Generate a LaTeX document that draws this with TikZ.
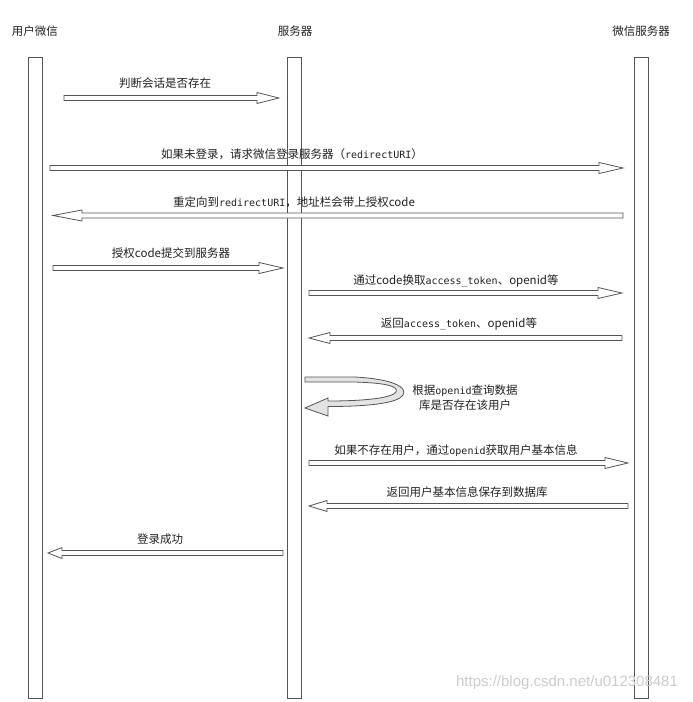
\documentclass[tikz,border=0pt]{standalone}
\usepackage{fontspec}
\setmainfont{Noto Sans CJK SC}
\newfontfamily\monof{DejaVu Sans Mono}
\newfontfamily\wmfont{Liberation Sans}
\definecolor{edge}{HTML}{555555}
\definecolor{txt}{HTML}{222222}
\tikzset{
  lifeline/.style={draw=edge, line width=0.9pt, fill=white, inner sep=0pt, outer sep=0pt},
  blockarrow/.style={draw=edge, line width=0.8pt, fill=white, line join=miter},
  selfarrow/.style={draw=edge, line width=0.8pt, fill=gray!22, line join=miter},
  lbl/.style={text=txt, font=\fontsize{11.5}{15}\selectfont, inner sep=0pt, anchor=center},
  header/.style={text=txt, font=\fontsize{11.5}{14}\selectfont, inner sep=0pt, anchor=center},
  watermark/.style={text=gray!40, font=\wmfont\fontsize{15}{17}\selectfont, inner sep=0pt, anchor=center},
}
\newcommand{\mt}[1]{{\monof\fontsize{10}{14}\selectfont #1}}
% right-pointing: tail x, tip x, y, head length
\newcommand{\rarr}[4]{\draw[blockarrow] (#1,#3-2.5) -- (#2-#4,#3-2.5) -- (#2-#4,#3-5.5) -- (#2,#3) -- (#2-#4,#3+5.5) -- (#2-#4,#3+2.5) -- (#1,#3+2.5) -- cycle;}
% left-pointing: tip x, tail x, y, head length
\newcommand{\larr}[4]{\draw[blockarrow] (#2,#3-2.5) -- (#1+#4,#3-2.5) -- (#1+#4,#3-5.5) -- (#1,#3) -- (#1+#4,#3+5.5) -- (#1+#4,#3+2.5) -- (#2,#3+2.5) -- cycle;}
\begin{document}
\begin{tikzpicture}[x=1pt, y=-1pt]
\useasboundingbox[fill=white] (0,0) rectangle (693,702);

% headers
\node[header] (hu) at (35,31) {用户微信};
\node[header] (hs) at (295,31) {服务器};
\node[header] (hw) at (641,31) {微信服务器};

% lifelines
\node[lifeline, minimum width=14pt, minimum height=641pt] (u) at (35,377.5) {};
\node[lifeline, minimum width=14pt, minimum height=641pt] (s) at (294,377.5) {};
\node[lifeline, minimum width=14pt, minimum height=641pt] (w) at (641,377.5) {};

% 1
\rarr{64}{279}{98}{22}
\node[lbl] (m1) at (165,83) {判断会话是否存在};
% 2
\rarr{50}{623}{168}{24}
\node[lbl] (m2) at (292,154) {如果未登录，请求微信登录服务器（\mt{redirectURI}）};
% 3
\larr{53}{623}{215.5}{29}
\node[lbl] (m3) at (294,202) {重定向到\mt{redirectURI}，地址栏会带上授权code};
% 4
\rarr{53}{283}{268}{24}
\node[lbl] (m4) at (171,253) {授权code提交到服务器};
% 5
\rarr{309}{622}{293}{24}
\node[lbl] (m5) at (456,281) {通过code换取\mt{access\_token}、openid等};
% 6
\larr{309}{622}{338}{21}
\node[lbl] (m6) at (459,324) {返回\mt{access\_token}、openid等};
% self arrow
\draw[selfarrow] (305,377) -- (355,377)
  .. controls (392,379) and (408,387) .. (403,395)
  .. controls (398,403) and (370,406.5) .. (328,406.5)
  -- (328,416) -- (305,408) -- (328,398) -- (328,401)
  .. controls (365,401) and (392,398) .. (396,392)
  .. controls (399,386) and (385,383) .. (355,382)
  -- (305,382) -- cycle;
\node[lbl, align=center] (m7) at (465,397.5) {根据\mt{openid}查询数据\\库是否存在该用户};
% 7
\rarr{309}{628}{463}{23}
\node[lbl] (m8) at (456,451) {如果不存在用户，通过\mt{openid}获取用户基本信息};
% 8
\larr{309}{628}{506}{18}
\node[lbl] (m9) at (467,492) {返回用户基本信息保存到数据库};
% 9
\larr{48}{283}{553}{14}
\node[lbl] (m10) at (160,539) {登录成功};

% watermark
\node[watermark] (wm) at (567,683) {https://blog.csdn.net/u012308481};
\end{tikzpicture}
\end{document}
